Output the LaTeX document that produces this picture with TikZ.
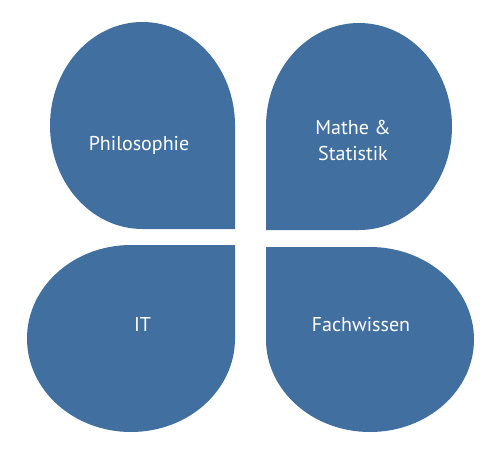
\documentclass[tikz,border=0pt]{standalone}
\usepackage{fontspec}
\setmainfont{PT Sans}
\definecolor{petal}{RGB}{65,112,160}
\begin{document}
\begin{tikzpicture}[x=1pt,y=-1pt,
  petalshape/.style={fill=petal,draw=none},
  label/.style={text=white,font=\fontsize{20}{26}\selectfont,align=center,inner sep=0pt}]
\useasboundingbox (0,0) rectangle (489,458);
% top-left petal, square corner bottom-right
\fill[petalshape] (235,229) -- (142.5,229) arc[start angle=90,end angle=360,x radius=92.5,y radius=103.5] -- cycle;
% top-right petal, square corner bottom-left
\fill[petalshape] (266,230) -- (266,126.5) arc[start angle=180,end angle=450,x radius=93,y radius=103.5] -- cycle;
% bottom-left petal, square corner top-right
\fill[petalshape] (235,245) -- (131,245) arc[start angle=270,end angle=0,x radius=104,y radius=93.5] -- cycle;
% bottom-right petal, square corner top-left
\fill[petalshape] (266,247) -- (370,247) arc[start angle=270,end angle=540,x radius=104,y radius=92.5] -- cycle;
\node[label,anchor=base] (phil) at (139,150.7) {Philosophie};
\node[label] (math) at (353,140) {Mathe \&\\Statistik};
\node[label,anchor=base] (it) at (142.5,331.7) {IT};
\node[label,anchor=base] (fach) at (361,331) {Fachwissen};
\end{tikzpicture}
\end{document}
